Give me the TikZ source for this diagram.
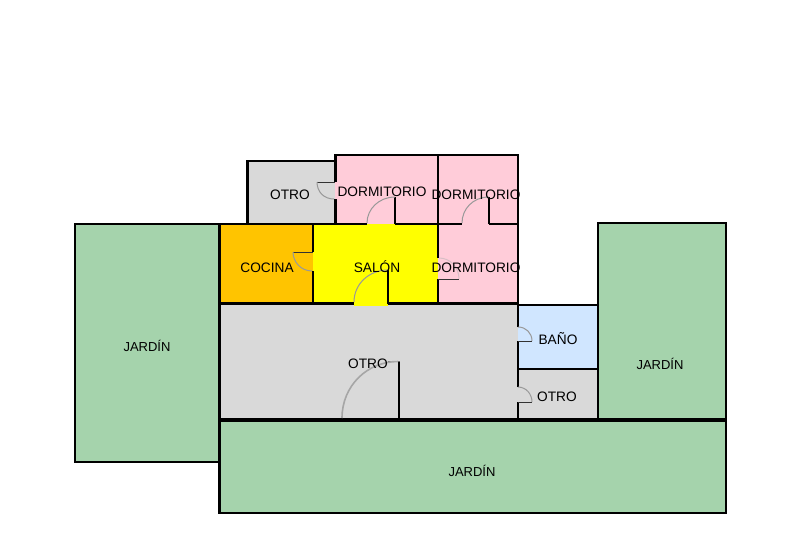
\documentclass[tikz,border=0pt]{standalone}
\usepackage{fontspec}
\setmainfont{Liberation Sans}
\definecolor{garden}{HTML}{A5D3AC}
\definecolor{graybox}{HTML}{D9D9D9}
\definecolor{pinkroom}{HTML}{FFCCD9}
\definecolor{yellowroom}{HTML}{FFFF00}
\definecolor{orangeroom}{HTML}{FFC400}
\definecolor{blueroom}{HTML}{D0E6FF}
\tikzset{
  wall/.style={draw=black,line width=2.7pt,line cap=butt},
  thinwall/.style={draw=black,line width=2.2pt,line join=miter},
  leaf/.style={draw=black!80,line width=1pt},
  swing/.style={draw=black!40,line width=1pt},
  bigswing/.style={draw=black!35,line width=1.6pt},
  label/.style={font=\fontsize{13.7pt}{14pt}\selectfont,text=black,inner sep=0pt},
  glabel/.style={font=\fontsize{13pt}{14pt}\selectfont,text=black,inner sep=0pt}
}
\begin{document}
\begin{tikzpicture}[x=1pt,y=-1pt]
\useasboundingbox[fill=white] (0,0) rectangle (800,533);
% room fills
\fill[garden] (74,224) rectangle (220,462);
\fill[garden] (598,222) rectangle (726,420);
\fill[garden] (219,420) rectangle (726,513);
\fill[graybox] (247,160) rectangle (335,224);
\fill[pinkroom] (335,155) rectangle (438,224);
\fill[pinkroom] (438,155) rectangle (518,303);
\fill[orangeroom] (220,224) rectangle (313,303);
\fill[yellowroom] (313,224) rectangle (438,303);
\fill[graybox] (220,303) rectangle (518,420);
\fill[blueroom] (518,305) rectangle (598,369);
\fill[graybox] (518,369) rectangle (598,420);
\fill[yellowroom] (354,302) rectangle (388,306);
% gardens
\draw[thinwall] (220,224) -- (75,224) -- (75,462) -- (220,462);
\draw[wall] (219.5,223) -- (219.5,514);
\draw[thinwall] (598,419) -- (598,223) -- (726,223) -- (726,513) -- (218.5,513);
\draw[line width=3.4pt] (219,420) -- (726,420);
% upper rooms
\draw[thinwall] (335,161) -- (247.5,161) -- (247.5,224);
\draw[wall] (335,155) -- (518,155);
\draw[wall] (335.5,154) -- (335.5,182);
\draw[wall] (335.5,199) -- (335.5,225);
\draw[wall] (438,155) -- (438,258);
\draw[wall] (438,279) -- (438,304);
\draw[wall] (518,154) -- (518,305);
\draw[line width=2pt] (218,224) -- (367,224);
\draw[line width=2pt] (395,224) -- (462,224);
\draw[line width=2pt] (489,224) -- (518,224);
\draw[wall] (313,224) -- (313,252);
\draw[wall] (313,271) -- (313,304);
\draw[wall] (218,303.5) -- (354,303.5);
\draw[wall] (388,303.5) -- (519,303.5);
% lower right rooms
\draw[thinwall] (518,305) -- (598,305);
\draw[wall] (518,303) -- (518,327);
\draw[wall] (518,341) -- (518,387);
\draw[wall] (518,402) -- (518,420);
\draw[thinwall] (518,369) -- (598,369);
% door leaves
\draw[leaf] (317,182) -- (335,182);
\draw[leaf] (293,252) -- (313,252);
\draw[leaf] (438,279) -- (459,279);
\draw[leaf] (518,341) -- (532,341);
\draw[leaf] (518,402) -- (532,402);
\draw[line width=2.2pt] (395,224) -- (395,197);
\draw[line width=2.2pt] (489,224) -- (489,197);
\draw[line width=2.2pt] (388,304) -- (388,270);
\draw[line width=2.6pt] (399,419) -- (399,361.5);
\draw[leaf,draw=black!60] (388,361.5) -- (400,361.5);
% door swings
\draw[swing] (317,182) .. controls (317,192) and (324,199) .. (334,199);
\draw[swing] (293,252) .. controls (293,262) and (301,271) .. (312,271);
\draw[swing] (367,223) .. controls (367,209) and (379,197) .. (395,197);
\draw[swing] (462,223) .. controls (462,209) and (473,197) .. (489,197);
\draw[swing] (354,302) .. controls (354,284) and (369,270) .. (388,270);
\draw[swing,draw=white!70!black,opacity=.5] (459,279) .. controls (459,267) and (450,258) .. (439,258);
\draw[swing] (518,327) .. controls (526,327) and (532,333) .. (532,341);
\draw[swing] (518,387) .. controls (526,387) and (532,394) .. (532,402);
\draw[bigswing] (342,418) .. controls (342,386) and (367,361.5) .. (398,361.5);
% labels
\node[label] (otroa) at (290,195) {OTRO};
\node[label] (dorma) at (382,192) {DORMITORIO};
\node[label] (dormb) at (476,195) {DORMITORIO};
\node[label] (cocina) at (267,268) {COCINA};
\node[label] (salon) at (377,267) {SALÓN};
\node[label] (dormc) at (476,268) {DORMITORIO};
\node[label] (otrob) at (368,364) {OTRO};
\node[label] (bano) at (558,339) {BAÑO};
\node[label] (otroc) at (557,397) {OTRO};
\node[glabel] (jardina) at (147,346) {JARDÍN};
\node[glabel] (jardinb) at (660,364) {JARDÍN};
\node[glabel] (jardinc) at (472,471) {JARDÍN};
\end{tikzpicture}
\end{document}
